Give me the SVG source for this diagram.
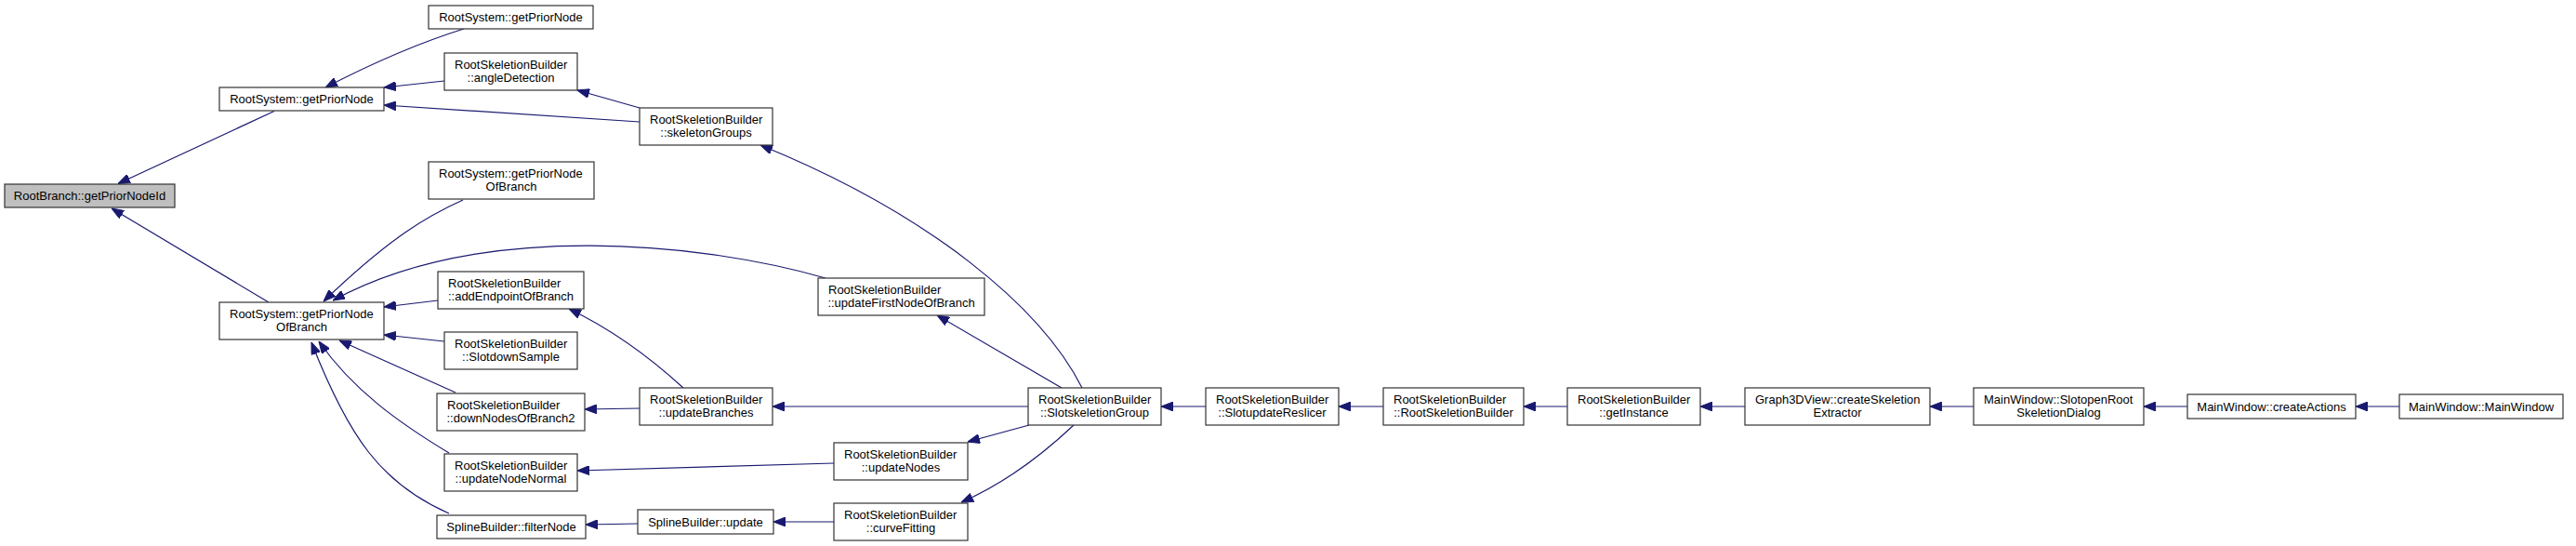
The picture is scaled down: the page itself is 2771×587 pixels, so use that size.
<svg xmlns="http://www.w3.org/2000/svg" width="2771" height="587" viewBox="0 0 2771 587">
<style>
.n rect{fill:#ffffff;stroke:#333333;stroke-width:1.2}
.n.root rect{fill:#bfbfbf}
.n text{font-family:"Liberation Sans",Arial,sans-serif;font-size:13px;fill:#000000}
.m{text-anchor:middle}
.e path{fill:none;stroke:#191970;stroke-width:1.2;marker-end:url(#arr)}
</style>
<defs>
<marker id="arr" viewBox="0 0 13 10" refX="13" refY="5" markerWidth="13" markerHeight="10" markerUnits="userSpaceOnUse" orient="auto">
<path d="M0,0 L13,5 L0,10 z" fill="#191970" stroke="#191970" stroke-width="1"/>
</marker>
</defs>
<rect width="2771" height="587" fill="#ffffff"/>
<g id="edges" class="e">
<path d="M295,119.5 L127,197.5"/>
<path d="M289,325 L120,224"/>
<path d="M499,31 C470,40 420,58 350,94"/>
<path d="M478,87 L413,94"/>
<path d="M688,131 L413,113"/>
<path d="M688,116 L621,97"/>
<path d="M1164,417 C1120,330 1000,230 818,156"/>
<path d="M498,215 C460,232 420,255 348,324"/>
<path d="M888,299 C760,262 520,235 358,323"/>
<path d="M471,323 L413,330"/>
<path d="M478,367 L413,360"/>
<path d="M490,422 L365,366"/>
<path d="M483,487 C430,455 380,420 343,367"/>
<path d="M483,552 C410,520 375,470 335,368"/>
<path d="M735,417 C700,385 660,355 612,332"/>
<path d="M688,439 L629,440"/>
<path d="M1106,437 L831,437"/>
<path d="M1142,417 L1008,339"/>
<path d="M1107,457 L1041,475"/>
<path d="M1155,457 C1120,490 1080,520 1034,540"/>
<path d="M897,498 L621,506"/>
<path d="M897,561 L832,561"/>
<path d="M686,563 L630,564"/>
<path d="M1297,437 L1249,437"/>
<path d="M1488,437 L1440,437"/>
<path d="M1686,437 L1639,437"/>
<path d="M1877,437 L1829,437"/>
<path d="M2123,437 L2076,437"/>
<path d="M2353,437 L2306,437"/>
<path d="M2581,437 L2534,437"/>
</g>
<g id="n0" class="n root"><rect x="5" y="198" width="183" height="25"/><text class="m" x="96.5" y="215">RootBranch::getPriorNodeId</text></g>
<g id="n1" class="n"><rect x="236" y="94" width="177" height="25"/><text class="m" x="324.5" y="111">RootSystem::getPriorNode</text></g>
<g id="n2" class="n"><rect x="236" y="325" width="177" height="40"/><text x="247" y="342">RootSystem::getPriorNode</text><text class="m" x="324.5" y="356">OfBranch</text></g>
<g id="n3" class="n"><rect x="461" y="6" width="177" height="25"/><text class="m" x="549.5" y="23">RootSystem::getPriorNode</text></g>
<g id="n4" class="n"><rect x="478" y="57" width="143" height="40"/><text x="489" y="74">RootSkeletionBuilder</text><text class="m" x="549.5" y="88">::angleDetection</text></g>
<g id="n5" class="n"><rect x="688" y="116" width="143" height="40"/><text x="699" y="133">RootSkeletionBuilder</text><text class="m" x="759.5" y="147">::skeletonGroups</text></g>
<g id="n6" class="n"><rect x="461" y="174" width="178" height="40"/><text x="472" y="191">RootSystem::getPriorNode</text><text class="m" x="550" y="205">OfBranch</text></g>
<g id="n7" class="n"><rect x="471" y="292" width="157" height="40"/><text x="482" y="309">RootSkeletionBuilder</text><text class="m" x="549.5" y="323">::addEndpointOfBranch</text></g>
<g id="n8" class="n"><rect x="478" y="357" width="143" height="40"/><text x="489" y="374">RootSkeletionBuilder</text><text class="m" x="549.5" y="388">::SlotdownSample</text></g>
<g id="n9" class="n"><rect x="470" y="423" width="159" height="40"/><text x="481" y="440">RootSkeletionBuilder</text><text class="m" x="549.5" y="454">::downNodesOfBranch2</text></g>
<g id="n10" class="n"><rect x="478" y="488" width="143" height="40"/><text x="489" y="505">RootSkeletionBuilder</text><text class="m" x="549.5" y="519">::updateNodeNormal</text></g>
<g id="n11" class="n"><rect x="470" y="554" width="160" height="25"/><text class="m" x="550" y="571">SplineBuilder::filterNode</text></g>
<g id="n12" class="n"><rect x="880" y="299" width="179" height="40"/><text x="891" y="316">RootSkeletionBuilder</text><text class="m" x="969.5" y="330">::updateFirstNodeOfBranch</text></g>
<g id="n13" class="n"><rect x="688" y="417" width="143" height="40"/><text x="699" y="434">RootSkeletionBuilder</text><text class="m" x="759.5" y="448">::updateBranches</text></g>
<g id="n14" class="n"><rect x="897" y="476" width="144" height="40"/><text x="908" y="493">RootSkeletionBuilder</text><text class="m" x="969" y="507">::updateNodes</text></g>
<g id="n15" class="n"><rect x="686" y="548" width="146" height="26"/><text class="m" x="759" y="565.5">SplineBuilder::update</text></g>
<g id="n16" class="n"><rect x="897" y="541" width="144" height="40"/><text x="908" y="558">RootSkeletionBuilder</text><text class="m" x="969" y="572">::curveFitting</text></g>
<g id="n17" class="n"><rect x="1106" y="417" width="143" height="40"/><text x="1117" y="434">RootSkeletionBuilder</text><text class="m" x="1177.5" y="448">::SlotskeletionGroup</text></g>
<g id="n18" class="n"><rect x="1297" y="417" width="143" height="40"/><text x="1308" y="434">RootSkeletionBuilder</text><text class="m" x="1368.5" y="448">::SlotupdateReslicer</text></g>
<g id="n19" class="n"><rect x="1488" y="417" width="151" height="40"/><text x="1499" y="434">RootSkeletionBuilder</text><text class="m" x="1563.5" y="448">::RootSkeletionBuilder</text></g>
<g id="n20" class="n"><rect x="1686" y="417" width="143" height="40"/><text x="1697" y="434">RootSkeletionBuilder</text><text class="m" x="1757.5" y="448">::getInstance</text></g>
<g id="n21" class="n"><rect x="1877" y="417" width="199" height="40"/><text x="1888" y="434">Graph3DView::createSkeletion</text><text class="m" x="1976.5" y="448">Extractor</text></g>
<g id="n22" class="n"><rect x="2123" y="417" width="183" height="40"/><text x="2134" y="434">MainWindow::SlotopenRoot</text><text class="m" x="2214.5" y="448">SkeletionDialog</text></g>
<g id="n23" class="n"><rect x="2353" y="424" width="181" height="26"/><text class="m" x="2443.5" y="441.5">MainWindow::createActions</text></g>
<g id="n24" class="n"><rect x="2581" y="424" width="176" height="26"/><text class="m" x="2669" y="441.5">MainWindow::MainWindow</text></g>
</svg>
